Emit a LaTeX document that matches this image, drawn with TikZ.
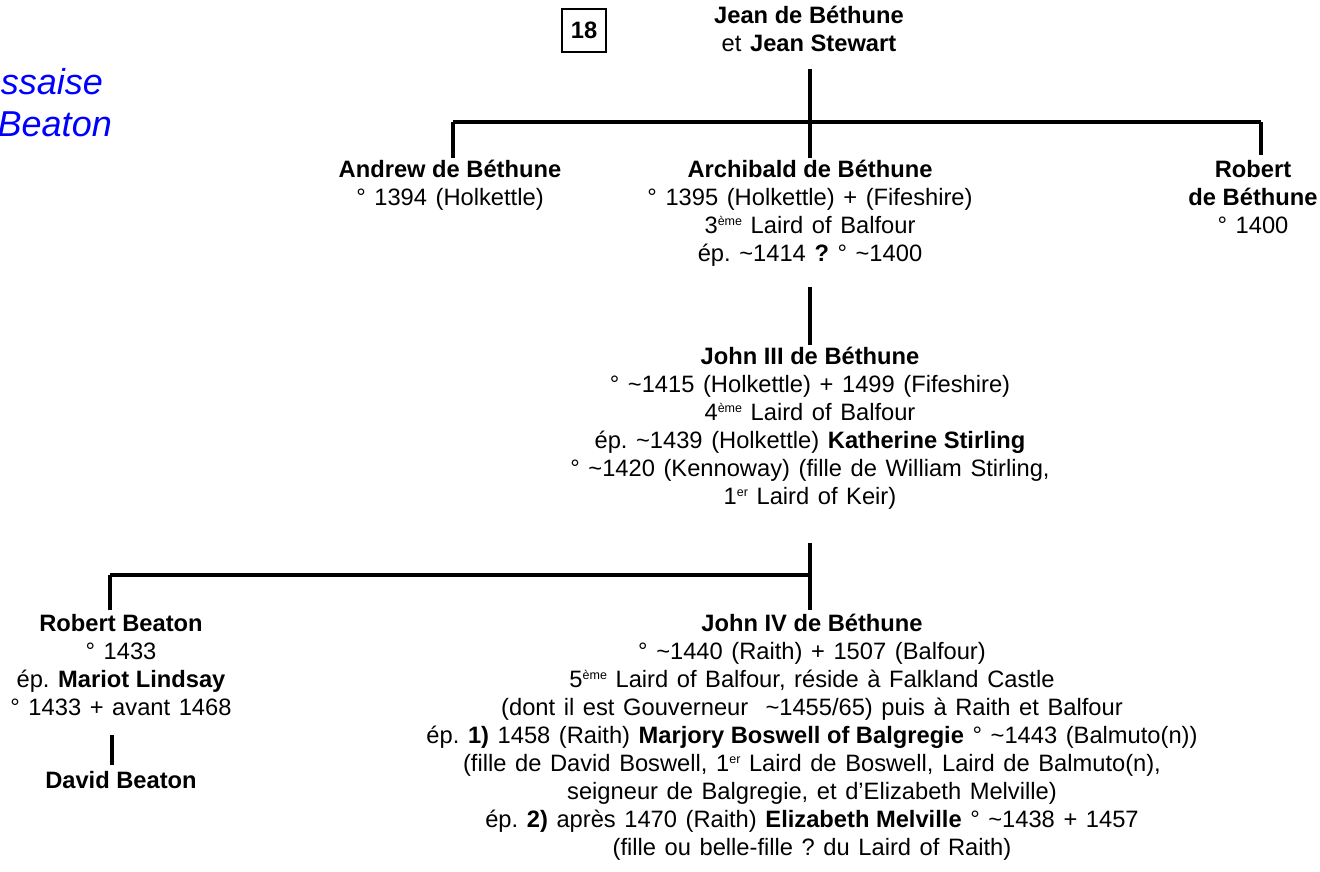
\documentclass[tikz,border=0pt]{standalone}
\usepackage{fontspec}
\setmainfont{Liberation Sans}
\frenchspacing
\newcommand\supx[1]{\raisebox{8pt}{\fontsize{12.5}{12.5}\selectfont #1}}
\newcommand\tld{\textasciitilde}
\newcommand\persfont{\fontsize{23.7}{28}\selectfont\fontdimen2\font=8.6pt\relax\frenchspacing}
\begin{document}
\begin{tikzpicture}[x=1pt,y=-1pt,
  person/.style={align=center, inner sep=0pt, anchor=north, font=\persfont},
  link/.style={line width=3.8pt},
  framebox/.style={draw, line width=2pt, minimum width=44pt, minimum height=43pt, inner sep=0pt, font=\fontsize{23.7}{28}\selectfont\bfseries},
  bluetitle/.style={inner sep=0pt, anchor=base east, text=blue, font=\fontsize{36}{40}\selectfont\itshape}]
\useasboundingbox (0,0) rectangle (1320,871);

% blue clipped title
\node[bluetitle] (tA) at (103,94) {ssaise};
\node[bluetitle] (tB) at (112,136) {Beaton};

% box 18
\node[framebox] (num) at (584,30.5) {18};

% people
\node[person] (title) at (809,6) {\textbf{Jean de Béthune}\\et \textbf{Jean Stewart}};
\node[person] (andrew) at (450,160) {\textbf{Andrew de Béthune}\\° 1394 (Holkettle)};
\node[person] (archi) at (810,160) {\textbf{Archibald de Béthune}\\° 1395 (Holkettle) + (Fifeshire)\\3\supx{ème} Laird of Balfour\\ép. \tld1414 \textbf{?}  ° \tld1400};
\node[person] (robert) at (1253,160) {\textbf{Robert}\\\textbf{de Béthune}\\° 1400};
\node[person] (john3) at (810,347) {\textbf{John III de Béthune}\\° \tld1415 (Holkettle) + 1499 (Fifeshire)\\4\supx{ème} Laird of Balfour\\ép. \tld1439 (Holkettle) \textbf{Katherine Stirling}\\° \tld1420 (Kennoway) (fille de William Stirling,\\1\supx{er} Laird of Keir)};
\node[person] (rbeaton) at (121,614) {\textbf{Robert Beaton}\\° 1433\\ép. \textbf{Mariot Lindsay}\\° 1433 + avant 1468};
\node[person] (david) at (121,771) {\textbf{David Beaton}};
\node[person] (john4) at (812,614) {\textbf{John IV de Béthune}\\° \tld1440 (Raith) + 1507 (Balfour)\\5\supx{ème} Laird of Balfour, réside à Falkland Castle\\(dont il est Gouverneur \ \tld1455/65) puis à Raith et Balfour\\ép. \textbf{1)} 1458 (Raith) \textbf{Marjory Boswell of Balgregie} ° \tld1443 (Balmuto(n))\\(fille de David Boswell, 1\supx{er} Laird de Boswell, Laird de Balmuto(n),\\seigneur de Balgregie, et d’Elizabeth Melville)\\ép. \textbf{2)} après 1470 (Raith) \textbf{Elizabeth Melville} ° \tld1438 + 1457\\(fille ou belle-fille ? du Laird of Raith)};

% connector points
\coordinate (t0) at (810,69);
\coordinate (j1) at (810,122);
\coordinate (jA) at (453,122);
\coordinate (jR) at (1261,122);
\coordinate (eA) at (453,158);
\coordinate (eB) at (810,158);
\coordinate (eR) at (1261,155);
\coordinate (s1) at (810,287);
\coordinate (e1) at (810,345);
\coordinate (s2) at (810,543);
\coordinate (j2) at (810,575);
\coordinate (jL) at (110,575);
\coordinate (eL) at (110,610);
\coordinate (eJ) at (810,610);
\coordinate (s3) at (112,735);
\coordinate (e3) at (112,765);

\draw[link] (t0) -- (j1);
\draw[link] (jA) -- (jR);
\draw[link] (jA) -- (eA);
\draw[link] (j1) -- (eB);
\draw[link] (jR) -- (eR);
\draw[link] (s1) -- (e1);
\draw[link] (s2) -- (j2);
\draw[link] (jL) -- (j2);
\draw[link] (jL) -- (eL);
\draw[link] (j2) -- (eJ);
\draw[link] (s3) -- (e3);
\end{tikzpicture}
\end{document}
